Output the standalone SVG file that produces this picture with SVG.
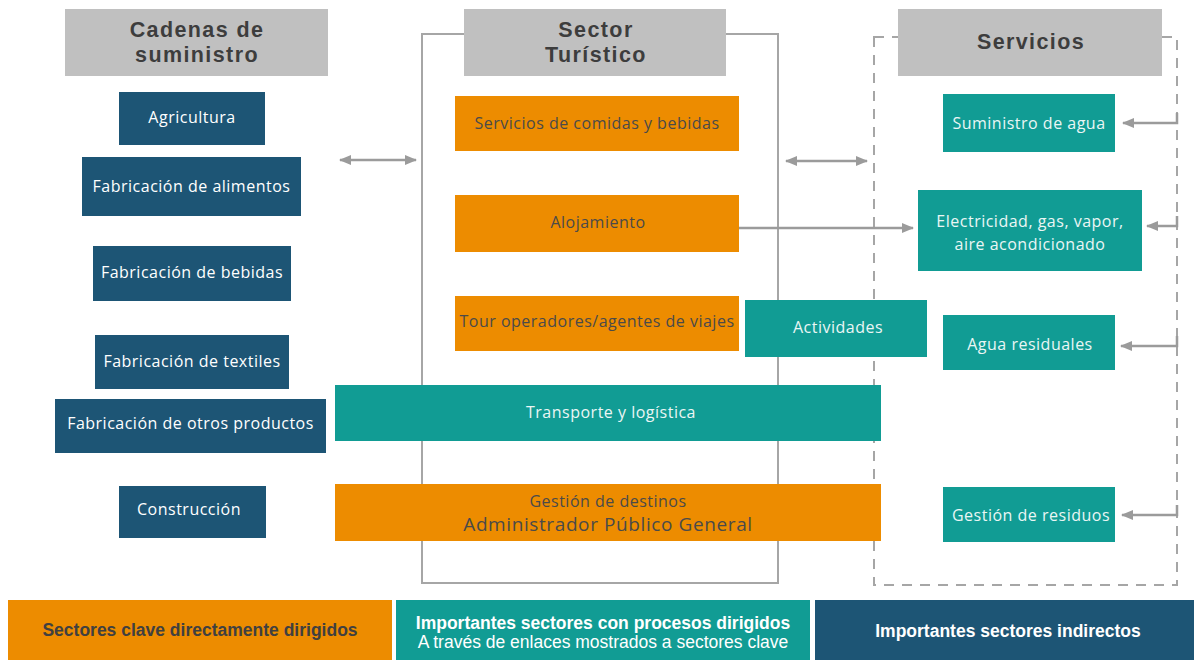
<svg xmlns="http://www.w3.org/2000/svg" width="1194" height="660" viewBox="0 0 1194 660">
<defs>
<marker id="ah" viewBox="0 0 12 10" refX="11" refY="5" markerWidth="12" markerHeight="10" markerUnits="userSpaceOnUse" orient="auto-start-reverse">
<path d="M0,0 L12,5 L0,10 Z" fill="#9b9b9b"/>
</marker>
<style>
.hdr{fill:#c0c0c0}
.ht{font-family:"Liberation Sans",Arial,sans-serif;font-weight:700;font-size:21.5px;letter-spacing:1.4px;fill:#3d3d3d;text-anchor:middle}
.blue{fill:#1d5575}
.org{fill:#ed8c00}
.teal{fill:#119c94}
.t{font-family:"Open Sans","Liberation Sans",sans-serif;font-size:16px;letter-spacing:0.5px;text-anchor:middle}
.w{fill:#ffffff}
.tw{fill:#eaf6f4}
.d{fill:#4a4a4a}
.frame{fill:none;stroke:#a6a6a6;stroke-width:2}
.dash{fill:none;stroke:#a6a6a6;stroke-width:2;stroke-dasharray:10 8}
.con{fill:none;stroke:#9b9b9b;stroke-width:2.5}
.lg{font-family:"Liberation Sans",Arial,sans-serif;font-size:17.5px;text-anchor:middle}
</style>
</defs>
<rect width="1194" height="660" fill="#ffffff"/>

<g id="frames">
<rect class="frame" x="422" y="34" width="356" height="549"/>
<rect class="dash" x="874" y="37" width="303" height="548"/>
</g>

<g id="hdr-cadenas"><rect class="hdr" x="65" y="9" width="263" height="67"/><text class="ht" x="197" y="37">Cadenas de</text><text class="ht" x="197" y="61.8">suministro</text></g>
<g id="hdr-sector"><rect class="hdr" x="464" y="9" width="262" height="67"/><text class="ht" x="596" y="37">Sector</text><text class="ht" x="596" y="61.8">Turístico</text></g>
<g id="hdr-servicios"><rect class="hdr" x="898" y="9" width="264" height="67"/><text class="ht" x="1031" y="49">Servicios</text></g>

<g id="connectors">
<line class="con" x1="340" y1="160" x2="416" y2="160" marker-start="url(#ah)" marker-end="url(#ah)"/>
<line class="con" x1="786" y1="161" x2="867" y2="161" marker-start="url(#ah)" marker-end="url(#ah)"/>
<line class="con" x1="739" y1="228" x2="913" y2="228" marker-end="url(#ah)"/>
<path class="con" d="M1177,113 V123 H1123" marker-end="url(#ah)"/>
<path class="con" d="M1177,216 V226 H1147" marker-end="url(#ah)"/>
<path class="con" d="M1177,336 V346 H1121" marker-end="url(#ah)"/>
<path class="con" d="M1177,505 V515 H1122" marker-end="url(#ah)"/>
</g>

<g id="agricultura"><rect class="blue" x="119" y="92" width="146" height="53"/><text class="t w" x="192" y="123">Agricultura</text></g>
<g id="alimentos"><rect class="blue" x="82" y="157" width="219" height="59"/><text class="t w" x="191.5" y="191.5">Fabricación de alimentos</text></g>
<g id="bebidas"><rect class="blue" x="93" y="246" width="198" height="55"/><text class="t w" x="192" y="278">Fabricación de bebidas</text></g>
<g id="textiles"><rect class="blue" x="95" y="335" width="194" height="54"/><text class="t w" x="192" y="367">Fabricación de textiles</text></g>
<g id="otros"><rect class="blue" x="55" y="399" width="271" height="54"/><text class="t w" x="190.5" y="429">Fabricación de otros productos</text></g>
<g id="construccion"><rect class="blue" x="119" y="486" width="147" height="52"/><text class="t w" x="189" y="515">Construcción</text></g>

<g id="comidas"><rect class="org" x="455" y="96" width="284" height="55"/><text class="t d" x="597" y="128.5">Servicios de comidas y bebidas</text></g>
<g id="alojamiento"><rect class="org" x="455" y="195" width="284" height="57"/><text class="t d" x="598" y="228">Alojamiento</text></g>
<g id="tour"><rect class="org" x="455" y="296" width="284" height="55"/><text class="t d" x="597" y="327">Tour operadores/agentes de viajes</text></g>
<g id="actividades"><rect class="teal" x="745" y="300" width="182" height="57"/><text class="t tw" x="838" y="333">Actividades</text></g>
<g id="transporte"><rect class="teal" x="335" y="385" width="546" height="56"/><text class="t tw" x="611" y="418">Transporte y logística</text></g>
<g id="gestion-destinos"><rect class="org" x="335" y="484" width="546" height="57"/><text class="t d" x="608" y="507">Gestión de destinos</text><text class="t d" x="608" y="531" style="font-size:19px;letter-spacing:0.6px">Administrador Público General</text></g>

<g id="agua"><rect class="teal" x="943" y="94" width="172" height="58"/><text class="t tw" x="1029" y="128.5">Suministro de agua</text></g>
<g id="electricidad"><rect class="teal" x="918" y="190" width="224" height="81"/><text class="t tw" x="1030" y="226.5">Electricidad, gas, vapor,</text><text class="t tw" x="1030" y="249.5">aire acondicionado</text></g>
<g id="residuales"><rect class="teal" x="943" y="315" width="172" height="55"/><text class="t tw" x="1030" y="350">Agua residuales</text></g>
<g id="residuos"><rect class="teal" x="943" y="487" width="172" height="55"/><text class="t tw" x="1031" y="521">Gestión de residuos</text></g>

<g id="legend">
<rect class="org" x="8" y="600" width="384" height="60"/>
<text class="lg" x="200" y="636" style="font-weight:700;fill:#404040">Sectores clave directamente dirigidos</text>
<rect class="teal" x="396" y="600" width="414" height="60"/>
<text class="lg" x="603" y="629" style="font-weight:700;fill:#ffffff">Importantes sectores con procesos dirigidos</text>
<text class="lg" x="603" y="648" style="fill:#ffffff">A través de enlaces mostrados a sectores clave</text>
<rect class="blue" x="815" y="600" width="379" height="60"/>
<text class="lg" x="1008" y="637" style="font-weight:700;fill:#ffffff">Importantes sectores indirectos</text>
</g>
</svg>
